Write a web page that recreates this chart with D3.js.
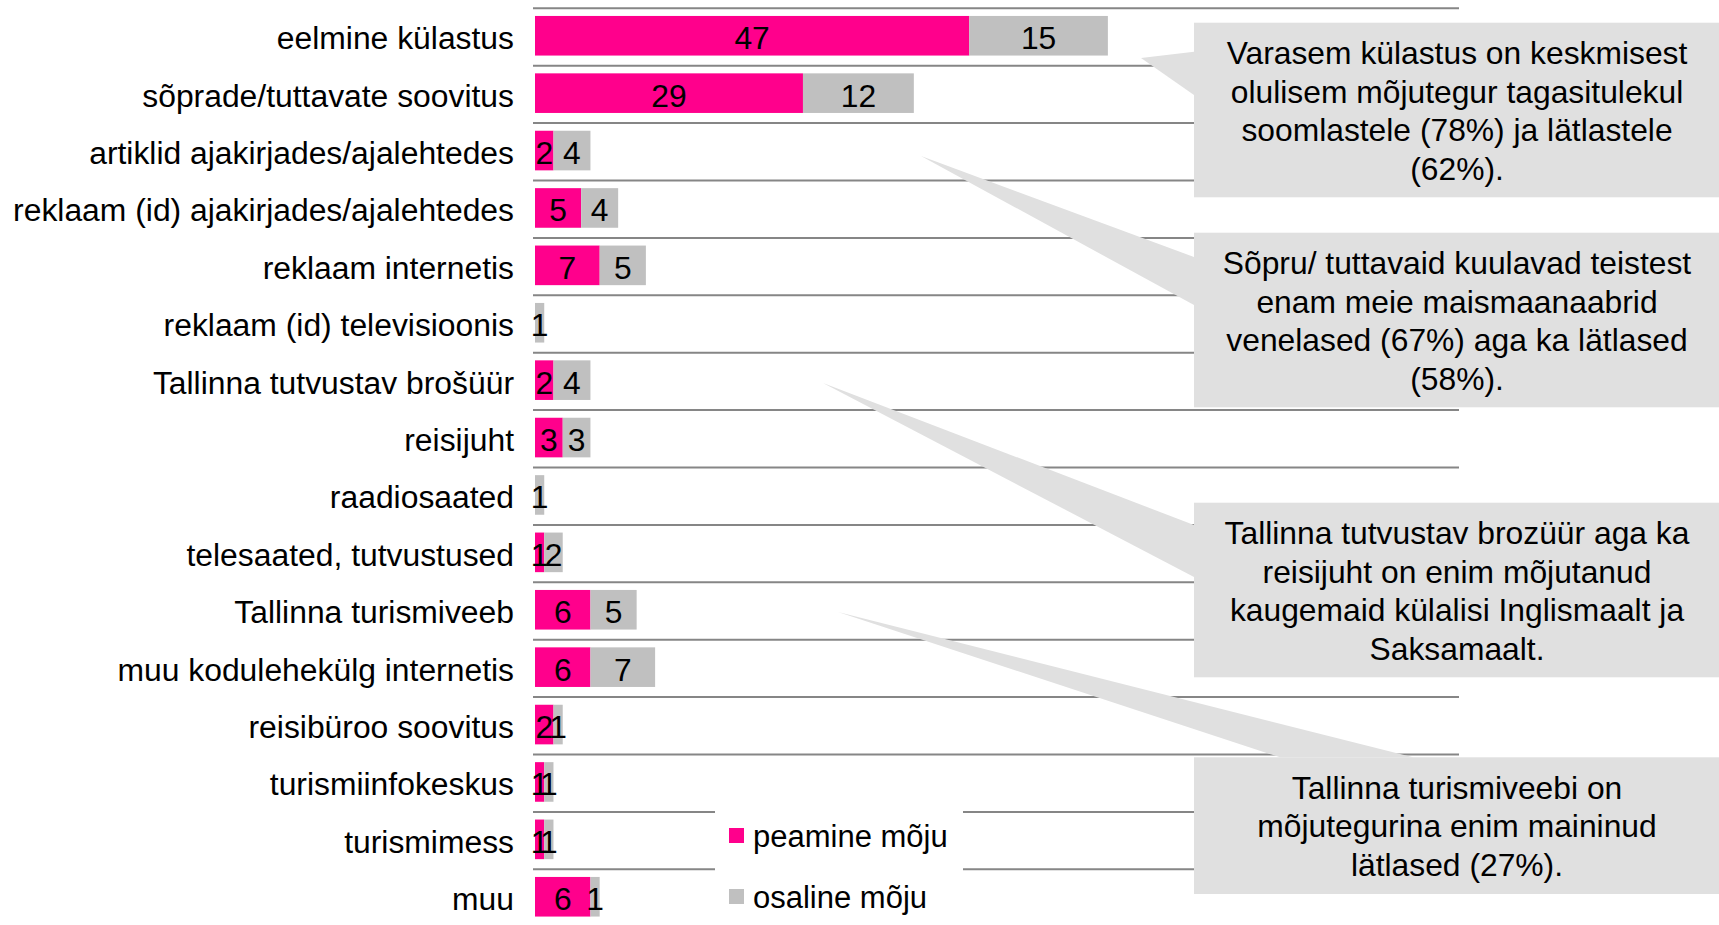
<!DOCTYPE html>
<html>
<head>
<meta charset="utf-8">
<script src="https://cdn.jsdelivr.net/npm/d3@7"></script>
<style>
  body { margin: 0; background: #fff; }
  text { font-family: "Liberation Sans", Arial, sans-serif; }
</style>
</head>
<body>
<svg id="chart"></svg>
<script>
const categories = [
  "eelmine külastus",
  "sõprade/tuttavate soovitus",
  "artiklid ajakirjades/ajalehtedes",
  "reklaam (id) ajakirjades/ajalehtedes",
  "reklaam internetis",
  "reklaam (id) televisioonis",
  "Tallinna tutvustav brošüür",
  "reisijuht",
  "raadiosaated",
  "telesaated, tutvustused",
  "Tallinna turismiveeb",
  "muu kodulehekülg internetis",
  "reisibüroo soovitus",
  "turismiinfokeskus",
  "turismimess",
  "muu"
];
const primary = [47, 29, 2, 5, 7, 0, 2, 3, 0, 1, 6, 6, 2, 1, 1, 6];
const partial = [15, 12, 4, 4, 5, 1, 4, 3, 1, 2, 5, 7, 1, 1, 1, 1];
const seriesNames = ["peamine mõju", "osaline mõju"];

const callout1 = ["Varasem külastus on keskmisest", "olulisem mõjutegur tagasitulekul", "soomlastele (78%) ja lätlastele", "(62%)."];
const callout2 = ["Sõpru/ tuttavaid kuulavad teistest", "enam meie maismaanaabrid", "venelased (67%) aga ka lätlased", "(58%)."];
const callout3 = ["Tallinna tutvustav brozüür aga ka", "reisijuht on enim mõjutanud", "kaugemaid külalisi Inglismaalt ja", "Saksamaalt."];
const callout4 = ["Tallinna turismiveebi on", "mõjutegurina enim maininud", "lätlased (27%)."];

const W = 1719, H = 925;
const colors = ["#ff008c", "#c0c0c0"];

const svg = d3.select("#chart").attr("width", W).attr("height", H);

const x = d3.scaleLinear().domain([0, 100]).range([535, 1459]);
const y = d3.scaleBand()
  .domain(categories)
  .range([8.3, 926.7])
  .paddingInner(0.31)
  .paddingOuter(0.155)
  .align(0.43);
const rowOffset = (y.step() - y.bandwidth()) * 0.43;

// gridlines between categories
svg.append("g")
  .selectAll("line")
  .data(categories)
  .join("line")
  .attr("x1", x(0) - 2)
  .attr("x2", x(100))
  .attr("y1", d => y(d) - rowOffset)
  .attr("y2", d => y(d) - rowOffset)
  .attr("stroke", "#868686")
  .attr("stroke-width", 2);

// stacked bars
const rows = categories.map((c, i) => ({ cat: c, vals: [primary[i], partial[i]] }));
const segs = [];
rows.forEach(r => {
  let x0 = 0;
  r.vals.forEach((v, k) => {
    segs.push({ cat: r.cat, k: k, v: v, x0: x0, x1: x0 + v });
    x0 += v;
  });
});

svg.append("g")
  .selectAll("rect")
  .data(segs.filter(d => d.v > 0))
  .join("rect")
  .attr("x", d => x(d.x0))
  .attr("y", d => y(d.cat))
  .attr("width", d => x(d.x1) - x(d.x0))
  .attr("height", y.bandwidth())
  .attr("fill", d => colors[d.k]);

svg.append("g")
  .selectAll("text")
  .data(segs.filter(d => d.v > 0))
  .join("text")
  .attr("x", d => (x(d.x0) + x(d.x1)) / 2)
  .attr("y", d => y(d.cat) + y.bandwidth() / 2)
  .attr("dy", "0.42em")
  .attr("text-anchor", "middle")
  .attr("font-size", 31.8)
  .attr("fill", "#000")
  .text(d => d.v);

// category labels
svg.append("g")
  .selectAll("text")
  .data(categories)
  .join("text")
  .attr("x", x(0) - 21)
  .attr("y", d => y(d) + y.bandwidth() / 2)
  .attr("dy", "0.42em")
  .attr("text-anchor", "end")
  .attr("font-size", 31.85)
  .attr("fill", "#000")
  .text(d => d);

// legend
const legend = svg.append("g");
legend.append("rect")
  .attr("x", 715).attr("y", 790).attr("width", 248).attr("height", 135)
  .attr("fill", "#fff");
seriesNames.forEach((name, i) => {
  const ly = 836 + i * 61;
  legend.append("rect")
    .attr("x", 729).attr("y", ly - 8).attr("width", 15).attr("height", 15)
    .attr("fill", colors[i]);
  legend.append("text")
    .attr("x", 753).attr("y", ly)
    .attr("dy", "0.35em")
    .attr("font-size", 31)
    .attr("fill", "#000")
    .text(name);
});

// callouts
const boxX0 = 1194, boxX1 = 1720;
const callouts = [
  { lines: callout1, top: 22.7, bottom: 197.3, tail: [[boxX0, 51.7], [1141, 58], [boxX0, 95]] },
  { lines: callout2, top: 232.7, bottom: 407.3, tail: [[boxX0, 257], [921, 156], [boxX0, 305]] },
  { lines: callout3, top: 502.7, bottom: 677.3, tail: [[boxX0, 525], [823, 383], [boxX0, 577]] },
  { lines: callout4, top: 757.3, bottom: 894, tail: [[1280, 757.3], [838, 612], [1413, 757.3]] }
];

const cg = svg.append("g");
callouts.forEach(c => {
  cg.append("rect")
    .attr("x", boxX0).attr("y", c.top)
    .attr("width", boxX1 - boxX0).attr("height", c.bottom - c.top)
    .attr("fill", "#e0e0e0");
  cg.append("path")
    .attr("d", d3.line()(c.tail.concat([c.tail[0]])))
    .attr("fill", "#e0e0e0");
  const t = cg.append("text")
    .attr("text-anchor", "middle")
    .attr("font-size", 31.8)
    .attr("fill", "#000");
  c.lines.forEach((ln, i) => {
    t.append("tspan")
      .attr("x", (boxX0 + boxX1) / 2)
      .attr("y", c.top + 30.5 + i * 38.4)
      .attr("dy", "0.35em")
      .text(ln);
  });
});
</script>
</body>
</html>
